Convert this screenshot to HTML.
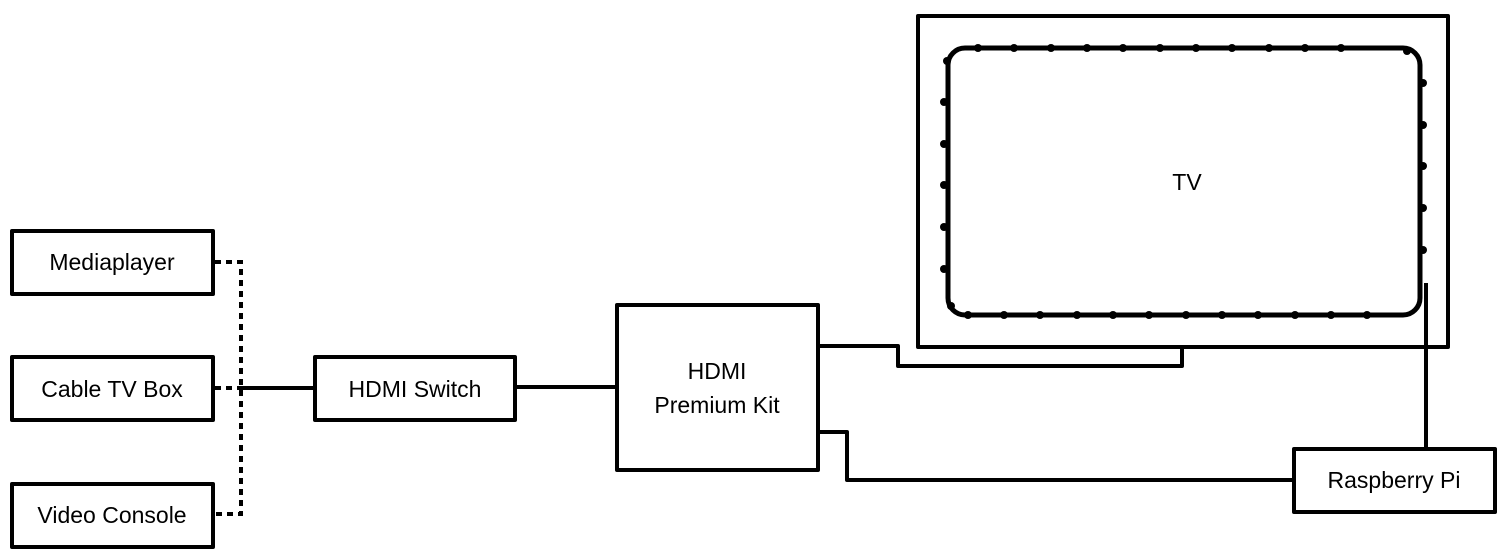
<!DOCTYPE html>
<html><head><style>
html,body{margin:0;padding:0;background:#fff;}
svg{display:block;}
text{font-family:"Liberation Sans",sans-serif;font-size:23px;fill:#000;text-anchor:middle;}
</style></head><body>
<svg width="1499" height="551" viewBox="0 0 1499 551" xmlns="http://www.w3.org/2000/svg">
<g fill="none" stroke="#000" stroke-width="4" stroke-linejoin="round">
<rect x="12" y="231" width="201" height="63"/>
<rect x="12" y="357" width="201" height="63"/>
<rect x="12" y="484" width="201" height="63"/>
<rect x="315" y="357" width="200" height="63"/>
<rect x="617" y="305" width="201" height="165"/>
<rect x="1294" y="449" width="201" height="63"/>
<rect x="918" y="16" width="530" height="331"/>
<rect x="948" y="48" width="472" height="267" rx="17" stroke-width="5"/>
<path d="M516 387 H617"/>
<path d="M243 388 H315"/>
<path d="M818 346 H898 V366 H1182 V347"/>
<path d="M818 432 H847 V480 H1294"/>
<path d="M1426 283 V449"/>
</g>
<g fill="none" stroke="#000" stroke-width="4" stroke-dasharray="6,5">
<path d="M215 262 H241 V514 H215"/>
<path d="M215 388 H243"/>
</g>
<g fill="#000">
<circle cx="978" cy="48" r="4"/><circle cx="1014" cy="48" r="4"/><circle cx="1051" cy="48" r="4"/><circle cx="1087" cy="48" r="4"/><circle cx="1123" cy="48" r="4"/><circle cx="1160" cy="48" r="4"/><circle cx="1196" cy="48" r="4"/><circle cx="1232" cy="48" r="4"/><circle cx="1269" cy="48" r="4"/><circle cx="1305" cy="48" r="4"/><circle cx="1341" cy="48" r="4"/><circle cx="1407" cy="51" r="4"/>
<circle cx="1423" cy="83" r="4"/><circle cx="1423" cy="125" r="4"/><circle cx="1423" cy="166" r="4"/><circle cx="1423" cy="208" r="4"/><circle cx="1423" cy="250" r="4"/>
<circle cx="947" cy="61" r="4"/><circle cx="944" cy="102" r="4"/><circle cx="944" cy="144" r="4"/><circle cx="944" cy="185" r="4"/><circle cx="944" cy="227" r="4"/><circle cx="944" cy="269" r="4"/><circle cx="951" cy="306" r="4"/>
<circle cx="968" cy="315" r="4"/><circle cx="1004" cy="315" r="4"/><circle cx="1040" cy="315" r="4"/><circle cx="1077" cy="315" r="4"/><circle cx="1113" cy="315" r="4"/><circle cx="1149" cy="315" r="4"/><circle cx="1186" cy="315" r="4"/><circle cx="1222" cy="315" r="4"/><circle cx="1258" cy="315" r="4"/><circle cx="1295" cy="315" r="4"/><circle cx="1331" cy="315" r="4"/><circle cx="1367" cy="315" r="4"/>
</g>
<text x="112" y="270">Mediaplayer</text>
<text x="112" y="397">Cable TV Box</text>
<text x="112" y="523">Video Console</text>
<text x="415" y="397">HDMI Switch</text>
<text x="717" y="379">HDMI</text>
<text x="717" y="413">Premium Kit</text>
<text x="1394" y="488">Raspberry Pi</text>
<text x="1187" y="190">TV</text>
</svg>
</body></html>
